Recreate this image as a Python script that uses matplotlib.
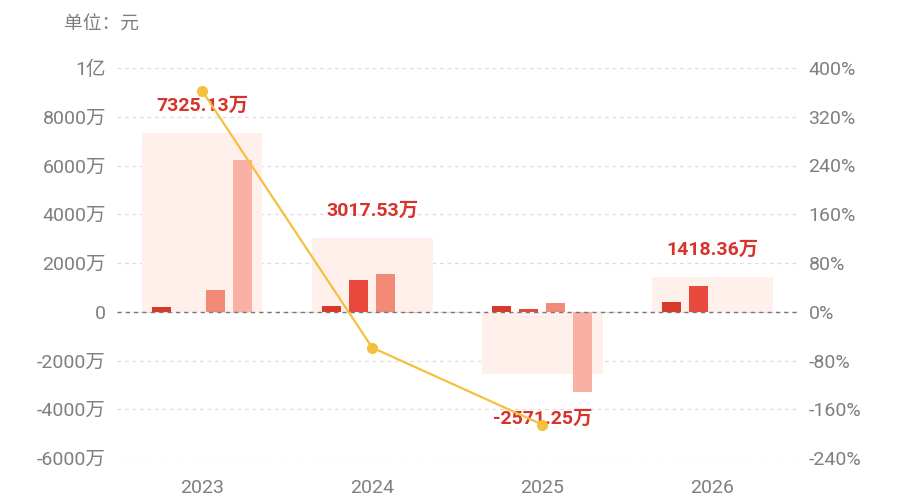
import numpy as np
import matplotlib
matplotlib.use("Agg")
import matplotlib.pyplot as plt
from matplotlib.ticker import FixedLocator, FuncFormatter

plt.rcParams['font.family'] = ['Roboto', 'Noto Sans CJK SC', 'DejaVu Sans']

# data (万元)
years = ['2023', '2024', '2025', '2026']
totals = [7325.13, 3017.53, -2571.25, 1418.36]
part1 = [200, 250, 220, 380]
part2 = [0, 1300, 110, 1040]
part3 = [890, 1530, 345, 0]
part4 = [6235, -62, -3282, 0]
growth = [362.7, -58.8, -185.2, np.nan]

part_colors = ['#d9392b', '#e9493c', '#f28a77', '#f9b1a5']
box_color = '#fff0ec'
line_color = '#f4c03e'
label_color = '#d8322a'
tick_color = '#7f7f7f'

fig = plt.figure(figsize=(9, 5), dpi=100)
ax = fig.add_axes([0.13, 0.084, 0.756, 0.78])
ax2 = ax.twinx()

x = np.arange(len(years))
ax.bar(x, totals, width=0.71, color=box_color, zorder=1)

parts = [part1, part2, part3, part4]
step = 0.159
for i, (vals, c) in enumerate(zip(parts, part_colors)):
    ax.bar(x + (i - 1.5) * step, vals, width=0.112, color=c, zorder=2)

# value labels above/below each group
for xi, t, p in zip(x, totals, zip(*parts)):
    if t >= 0:
        ref = max(t, max(p))
        ax.annotate(f'{t:.2f}万', (xi, ref), xytext=(0, 13), textcoords='offset points',
                    ha='center', va='bottom', color=label_color, fontsize=14,
                    fontweight='bold', zorder=5)
    else:
        ref = min(t, min(p))
        ax.annotate(f'{t:.2f}万', (xi, ref), xytext=(0, -13), textcoords='offset points',
                    ha='center', va='top', color=label_color, fontsize=14,
                    fontweight='bold', zorder=5)

ax.set_xlim(-0.5, 3.5)
ax.set_ylim(-6000, 10000)
ax.yaxis.set_major_locator(FixedLocator(np.arange(-6000, 10001, 2000)))


def fmt_left(v, pos):
    if v == 0:
        return '0'
    if abs(v) >= 10000:
        return f'{v / 10000:.0f}亿'
    return f'{v:.0f}万'


ax.yaxis.set_major_formatter(FuncFormatter(fmt_left))
ax.grid(axis='y', linestyle=(0, (3, 3)), color='#dddddd', linewidth=0.9, zorder=0)
ax.set_axisbelow(True)
ax.axhline(0, color='#777777', linestyle=(0, (3, 3)), linewidth=1.0, zorder=3)

ax.set_xticks(x)
ax.set_xticklabels(years)

ax2.set_ylim(-240, 400)
ax2.yaxis.set_major_locator(FixedLocator(np.arange(-240, 401, 80)))
ax2.yaxis.set_major_formatter(FuncFormatter(lambda v, p: f'{v:.0f}%'))
ax2.plot(x, growth, color=line_color, linewidth=1.6, marker='o', markersize=7,
         zorder=6)

for a in (ax, ax2):
    for s in a.spines.values():
        s.set_visible(False)
    a.tick_params(length=0, labelsize=14, labelcolor=tick_color)
ax.tick_params(axis='y', pad=8)
ax.tick_params(axis='x', pad=15)
ax2.tick_params(axis='y', pad=8)

fig.text(0.071, 0.95, '单位：元', color=tick_color, fontsize=13.5, ha='left', va='center')

fig.savefig('out.png', dpi=100)
